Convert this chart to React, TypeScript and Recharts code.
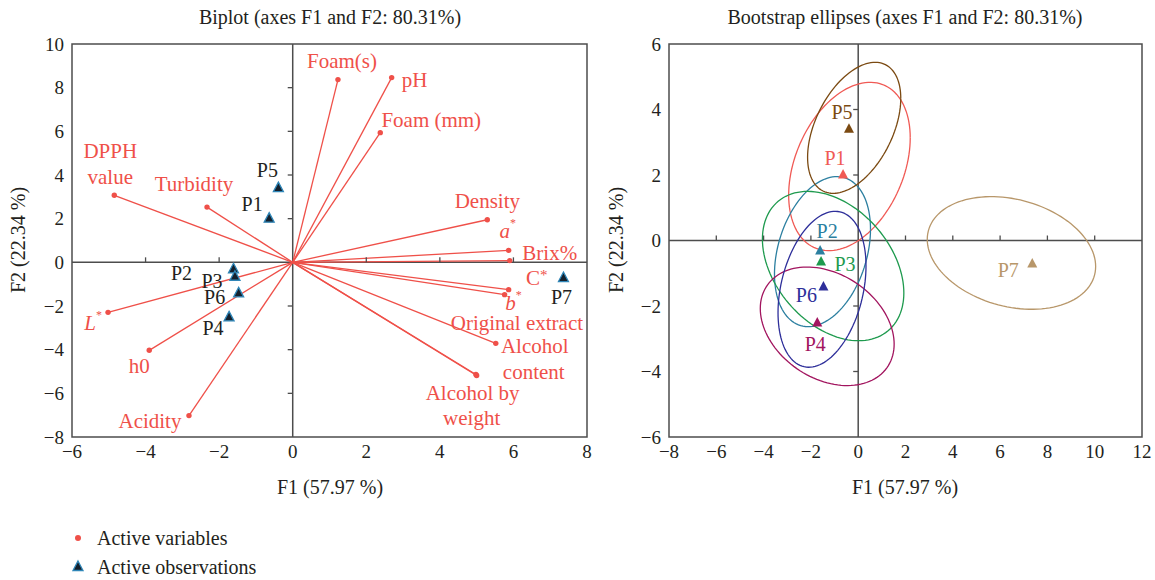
import React from "react";
import { ScatterChart, Scatter, XAxis, YAxis, ReferenceLine, ReferenceArea } from "recharts";

const FONT = "'Liberation Serif', 'Times New Roman', serif";
const RED = "#ef5049";
const AXIS = "#4d4d4d";
const INK = "#231f20";

// active variables (F1, F2)
const varNames = [
  "Foam(s)", "pH", "Foam (mm)", "DPPH value", "Turbidity", "Density", "a*", "Brix%",
  "C*", "b*", "Original extract", "Alcohol content", "Alcohol by weight", "L*", "h0", "Acidity",
];
const varF1 = [1.23, 2.69, 2.38, -4.85, -2.33, 5.29, 5.87, 5.9, 5.87, 5.76, 4.98, 5.52, 5.0, -5.02, -3.9, -2.82];
const varF2 = [8.37, 8.46, 5.94, 3.07, 2.53, 1.95, 0.55, 0.08, -1.25, -1.48, -5.14, -3.71, -5.18, -2.29, -4.03, -7.02];

// active observations
const obsNames = ["P1", "P2", "P3", "P4", "P5", "P6", "P7"];
const obsF1 = [-0.64, -1.61, -1.57, -1.73, -0.39, -1.47, 7.36];
const obsF2 = [2.0, -0.32, -0.66, -2.52, 3.4, -1.42, -0.72];

// bootstrap ellipses: centre, half extent on F1 / F2, and cos of the phase
const ellCx = [-0.37, -1.51, -1.06, -1.31, -0.17, -1.53, 6.48];
const ellCy = [2.26, -0.34, -0.78, -2.62, 3.44, -1.49, -0.38];
const ellA = [2.57, 2.03, 2.99, 2.83, 1.97, 1.86, 3.56];
const ellB = [2.57, 2.29, 2.28, 1.81, 2.0, 2.38, 1.72];
const ellCos = [0.34, 0.3, -0.36, -0.3, 0.45, 0.3, -0.24];

const leftXTicks = [-6, -4, -2, 0, 2, 4, 6, 8];
const leftYTicks = [-8, -6, -4, -2, 0, 2, 4, 6, 8, 10];
const rightXTicks = [-8, -6, -4, -2, 0, 2, 4, 6, 8, 10, 12];
const rightYTicks = [-6, -4, -2, 0, 2, 4, 6];

const obsColors = ["#f05a55", "#2c7fa0", "#1e9a4e", "#a2155f", "#7b4a12", "#2e2f9a", "#b8976a"];

// label layout (pixel offsets from the marker)
const varLabelLayout: Record<string, { lines: string[]; at: number[][] }> = {
  "Foam(s)": { lines: ["Foam(s)"], at: [[4, -19]] },
  pH: { lines: ["pH"], at: [[23, 2]] },
  "Foam (mm)": { lines: ["Foam (mm)"], at: [[51, -13]] },
  "DPPH value": { lines: ["DPPH", "value"], at: [[-4, -44], [-4, -18]] },
  Turbidity: { lines: ["Turbidity"], at: [[-13, -23]] },
  Density: { lines: ["Density"], at: [[0, -19]] },
  "a*": { lines: ["a*"], at: [[-1, -19]] },
  "Brix%": { lines: ["Brix%"], at: [[40, -8]] },
  "C*": { lines: ["C*"], at: [[28, -12]] },
  "b*": { lines: ["b*"], at: [[9, 8]] },
  "Original extract": { lines: ["Original extract"], at: [[41, -52]] },
  "Alcohol content": { lines: ["Alcohol", "content"], at: [[39, 3], [38, 29]] },
  "Alcohol by weight": { lines: ["Alcohol by", "weight"], at: [[-4, 18], [-5, 43]] },
  "L*": { lines: ["L*"], at: [[-15, 11]] },
  h0: { lines: ["h0"], at: [[-10, 16]] },
  Acidity: { lines: ["Acidity"], at: [[-39, 5]] },
};
const obsLabelLeft: Record<string, number[]> = {
  P1: [-17, -15], P2: [-52, 4], P3: [-23, 4], P4: [-16, 11], P5: [-11, -18], P6: [-24, 4], P7: [-2, 19],
};
const obsLabelRight: Record<string, number[]> = {
  P1: [-8, -17], P2: [7, -20], P3: [24, 2], P4: [-2, 21], P5: [-7, -17], P6: [-17, 8], P7: [-24, 6],
};

const variables = varNames.map((name, i) => ({ name, x: varF1[i], y: varF2[i] }));
const observations = obsNames.map((name, i) => ({ name, x: obsF1[i], y: obsF2[i] }));

const ellipses = obsNames.map((name, i) => {
  const c = ellCos[i];
  const s = Math.sqrt(1 - c * c);
  const pts = [];
  for (let k = 0; k <= 120; k++) {
    const t = (k / 120) * Math.PI * 2;
    pts.push({
      x: ellCx[i] + ellA[i] * Math.cos(t),
      y: ellCy[i] + ellB[i] * (Math.cos(t) * c + Math.sin(t) * s),
    });
  }
  return { name, pts };
});

const fmt = (v: number) => (v < 0 ? `\u2212${-v}` : `${v}`);

const tri = (cx: number, cy: number, w: number) =>
  `M${cx},${cy - w * 0.6} L${cx + w / 2},${cy + w * 0.35} L${cx - w / 2},${cy + w * 0.35} Z`;

function LabelText({ text, x, y, fill, size }: { text: string; x: number; y: number; fill: string; size: number }) {
  const star = /^[abLC]\*$/.test(text);
  if (star) {
    const letter = text[0];
    return (
      <text x={x} y={y} textAnchor="middle" dominantBaseline="central" fill={fill} fontSize={size} fontFamily={FONT}>
        <tspan fontStyle={letter === "C" ? "normal" : "italic"}>{letter}</tspan>
        <tspan fontSize={letter === "C" ? 15 : 12} dy={letter === "C" ? -3 : -8}>*</tspan>
      </text>
    );
  }
  return (
    <text x={x} y={y} textAnchor="middle" dominantBaseline="central" fill={fill} fontSize={size} fontFamily={FONT}>
      {text}
    </text>
  );
}

const VarShape = (props: any) => {
  const { cx, cy, payload } = props;
  const lay = varLabelLayout[payload.name];
  return (
    <g>
      <circle cx={cx} cy={cy} r={2.7} fill={RED} />
      {lay.lines.map((ln, j) => (
        <LabelText key={j} text={ln} x={cx + lay.at[j][0]} y={cy + lay.at[j][1]} fill={RED} size={21} />
      ))}
    </g>
  );
};

const ObsShapeLeft = (props: any) => {
  const { cx, cy, payload } = props;
  const off = obsLabelLeft[payload.name];
  return (
    <g>
      <path d={tri(cx, cy, 10)} fill="#15202c" stroke="#2f86b8" strokeWidth={1.3} />
      <LabelText text={payload.name} x={cx + off[0]} y={cy + off[1]} fill={INK} size={20} />
    </g>
  );
};

const ObsShapeRight = (props: any) => {
  const { cx, cy, payload } = props;
  const i = obsNames.indexOf(payload.name);
  const off = obsLabelRight[payload.name];
  return (
    <g>
      <path d={tri(cx, cy, 10)} fill={obsColors[i]} />
      <LabelText text={payload.name} x={cx + off[0]} y={cy + off[1]} fill={obsColors[i]} size={20} />
    </g>
  );
};

const HTick = (props: any) => <line x1={props.cx} y1={props.cy} x2={props.cx} y2={props.cy - 5} stroke={AXIS} strokeWidth={1.3} />;
const VTick = (props: any) => <line x1={props.cx - 5} y1={props.cy} x2={props.cx} y2={props.cy} stroke={AXIS} strokeWidth={1.3} />;
const NoShape = () => <g />;

const tickStyle = { fontSize: 19, fill: INK, fontFamily: FONT };

function Panel({
  width, xd, yd, xTicks, yTicks, marginLeft, children,
}: {
  width: number; xd: number[]; yd: number[]; xTicks: number[]; yTicks: number[]; marginLeft: number; children: React.ReactNode;
}) {
  const innerX = xTicks.filter((t) => t !== 0 && t !== xd[0] && t !== xd[1]).map((t) => ({ x: t, y: 0 }));
  const innerY = yTicks.filter((t) => t !== 0 && t !== yd[0] && t !== yd[1]).map((t) => ({ x: 0, y: t }));
  return (
    <ScatterChart width={width} height={480} margin={{ top: 44, right: 13, bottom: 13, left: marginLeft }}>
      <XAxis type="number" dataKey="x" domain={xd} ticks={xTicks} interval={0} allowDataOverflow
        axisLine={false} tickLine={false} tick={tickStyle} tickFormatter={fmt} height={30} />
      <YAxis type="number" dataKey="y" domain={yd} ticks={yTicks} interval={0} allowDataOverflow
        axisLine={false} tickLine={false} tick={tickStyle} tickFormatter={fmt} width={60} />
      <ReferenceArea x1={xd[0]} x2={xd[1]} y1={yd[0]} y2={yd[1]} fill="none" fillOpacity={0} stroke={AXIS} strokeWidth={1.5} />
      <ReferenceLine x={0} stroke={AXIS} strokeWidth={1.5} />
      <ReferenceLine y={0} stroke={AXIS} strokeWidth={1.5} />
      <Scatter data={innerX} shape={HTick} isAnimationActive={false} />
      <Scatter data={innerY} shape={VTick} isAnimationActive={false} />
      {children}
    </ScatterChart>
  );
}

const abs = (x: number, y: number, extra: React.CSSProperties = {}): React.CSSProperties => ({
  position: "absolute", left: x, top: y, transform: "translate(-50%, -50%)", whiteSpace: "nowrap", lineHeight: 1, ...extra,
});

export default function App() {
  return (
    <div style={{ position: "absolute", left: 0, top: 0, width: 1155, height: 580, background: "#fff", fontFamily: FONT, color: INK }}>
      <div style={{ position: "absolute", left: 0, top: 0 }}>
        <Panel width={600} xd={[-6, 8]} yd={[-8, 10]} xTicks={leftXTicks} yTicks={leftYTicks} marginLeft={12}>
          {variables.map((v) => (
            <ReferenceLine key={v.name} segment={[{ x: 0, y: 0 }, { x: v.x, y: v.y }]} stroke={RED} strokeWidth={1.3} />
          ))}
          <Scatter data={variables} shape={VarShape} isAnimationActive={false} />
          <Scatter data={observations} shape={ObsShapeLeft} isAnimationActive={false} />
        </Panel>
      </div>
      <div style={{ position: "absolute", left: 600, top: 0 }}>
        <Panel width={555} xd={[-8, 12]} yd={[-6, 6]} xTicks={rightXTicks} yTicks={rightYTicks} marginLeft={9}>
          {ellipses.map((e, i) => (
            <Scatter key={e.name} data={e.pts} line={{ stroke: obsColors[i], strokeWidth: 1.3 }} lineType="joint"
              shape={NoShape} isAnimationActive={false} />
          ))}
          <Scatter data={observations} shape={ObsShapeRight} isAnimationActive={false} />
        </Panel>
      </div>

      <div style={abs(330, 17, { fontSize: 20 })}>Biplot (axes F1 and F2: 80.31%)</div>
      <div style={abs(905, 17, { fontSize: 20 })}>Bootstrap ellipses (axes F1 and F2: 80.31%)</div>
      <div style={abs(330, 487, { fontSize: 20 })}>F1 (57.97 %)</div>
      <div style={abs(905, 487, { fontSize: 20 })}>F1 (57.97 %)</div>
      <div style={abs(18, 240, { fontSize: 20, transform: "translate(-50%, -50%) rotate(-90deg)" })}>F2 (22.34 %)</div>
      <div style={abs(616, 240, { fontSize: 20, transform: "translate(-50%, -50%) rotate(-90deg)" })}>F2 (22.34 %)</div>

      <svg style={{ position: "absolute", left: 0, top: 520 }} width={100} height={60}>
        <circle cx={78} cy={18} r={3} fill={RED} />
        <path d={tri(78, 47, 10)} fill="#15202c" stroke="#2f86b8" strokeWidth={1.3} />
      </svg>
      <div style={{ position: "absolute", left: 97, top: 538, transform: "translateY(-50%)", fontSize: 20, lineHeight: 1, whiteSpace: "nowrap" }}>
        Active variables
      </div>
      <div style={{ position: "absolute", left: 97, top: 567, transform: "translateY(-50%)", fontSize: 20, lineHeight: 1, whiteSpace: "nowrap" }}>
        Active observations
      </div>
    </div>
  );
}
